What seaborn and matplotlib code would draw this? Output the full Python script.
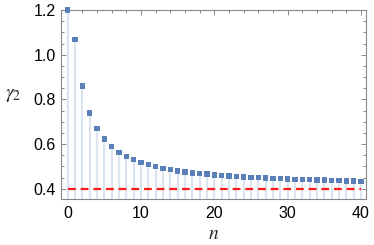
import numpy as np
import pandas as pd
import matplotlib
matplotlib.use("Agg")
import matplotlib.pyplot as plt
import seaborn as sns
from matplotlib.ticker import MultipleLocator

n_values = list(range(0, 41))
gamma2 = [1.200, 1.068, 0.859, 0.739, 0.669, 0.622, 0.588, 0.563, 0.544, 0.530,
          0.518, 0.507, 0.499, 0.491, 0.486, 0.479, 0.475, 0.471, 0.468, 0.465,
          0.462, 0.460, 0.457, 0.455, 0.453, 0.451, 0.450, 0.448, 0.446, 0.445,
          0.443, 0.442, 0.441, 0.440, 0.439, 0.438, 0.437, 0.436, 0.434, 0.434,
          0.433]
limit_value = 0.4
x_ticks = [0, 10, 20, 30, 40]
y_ticks = [0.4, 0.6, 0.8, 1.0, 1.2]

df = pd.DataFrame({"n": n_values, "gamma2": gamma2})

sns.set_style("ticks")
plt.rcParams["font.family"] = ["Liberation Sans", "DejaVu Sans"]
plt.rcParams["mathtext.fontset"] = "stix"

fig = plt.figure(figsize=(3.74, 2.45), dpi=100)
ax = fig.add_axes([0.163, 0.188, 0.816, 0.771])

ymin, ymax = 0.354, 1.2
ax.vlines(df["n"], ymin, df["gamma2"], color="#dce4f0", lw=1.6, zorder=1)
ax.hlines(limit_value, 0, 40, color="#ff1a1a", lw=1.6, linestyles=(0, (3.5, 2.2)), zorder=2)
sns.scatterplot(data=df, x="n", y="gamma2", marker="s", s=15, color="#5b7fb8",
                edgecolor="none", ax=ax, zorder=3, clip_on=False)

ax.set_xlim(-0.9, 40.7)
ax.set_ylim(ymin, ymax)
ax.set_xticks(x_ticks)
ax.set_yticks(y_ticks)
ax.set_yticklabels([f"{v:.1f}" for v in y_ticks])
ax.xaxis.set_minor_locator(MultipleLocator(2))
ax.yaxis.set_minor_locator(MultipleLocator(0.05))
ax.tick_params(which="both", direction="in", top=True, right=True, colors="#888888",
               labelcolor="black", labelsize=11.5, width=0.7)
ax.tick_params(which="major", length=3.5)
ax.tick_params(axis="x", which="major", pad=5)
ax.tick_params(axis="y", which="major", pad=3.5)
ax.tick_params(which="minor", length=2)
for s in ax.spines.values():
    s.set_visible(True)
    s.set_color("#888888")
    s.set_linewidth(0.8)

ax.set_xlabel(r"$n$", fontsize=14)
ax.xaxis.set_label_coords(0.5, -0.145)
ax.set_ylabel(r"$\gamma_2$", fontsize=14, rotation=0, va="center")
ax.yaxis.set_label_coords(-0.155, 0.55)

fig.savefig("out.png", dpi=100)
